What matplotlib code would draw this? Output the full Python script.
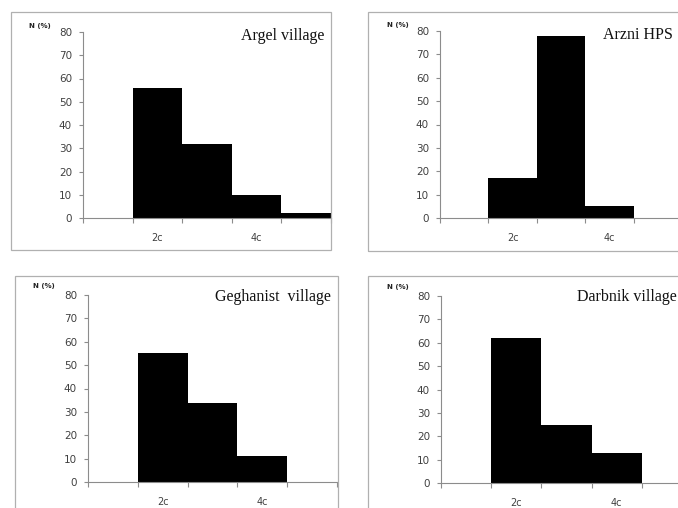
import matplotlib
matplotlib.use("Agg")
import matplotlib.pyplot as plt
from matplotlib.patches import Rectangle

W, H = 678, 508

# size classes shown on the x axis (only every other one is labelled)
classes = ["1c", "2c", "3c", "4c", "5c"]
shown_labels = ["", "2c", "", "4c", ""]

# share of trees in each class, %
argel = [0, 56, 32, 10, 2]
arzni = [0, 17, 78, 5, 0]
geghanist = [0, 55, 34, 11, 0]
darbnik = [0, 62, 25, 13, 0]

titles = ["Argel village", "Arzni HPS", "Geghanist  village", "Darbnik village"]
series = [argel, arzni, geghanist, darbnik]

# pixel layout of each pasted chart: frame box, plot area, title and "N (%)" spots
panels = [
    dict(frame=(11, 12, 331, 250), area=(83, 331, 218, 32), title=(241, 28), nlab=(29, 26)),
    dict(frame=(368, 12, 700, 251), area=(440, 682, 218, 31), title=(603, 27), nlab=(387, 25)),
    dict(frame=(15, 276, 338, 520), area=(88, 337, 482, 295), title=(215, 289), nlab=(33, 286)),
    dict(frame=(368, 276, 700, 520), area=(441, 692, 483, 296), title=(577, 289), nlab=(387, 287)),
]

fig = plt.figure(figsize=(W / 100, H / 100), dpi=100)
fig.patch.set_facecolor("white")

grey = "#8c8c8c"
for p, vals, title in zip(panels, series, titles):
    fx0, fy0, fx1, fy1 = p["frame"]
    fig.patches.append(Rectangle((fx0 / W, 1 - fy1 / H), (fx1 - fx0) / W, (fy1 - fy0) / H,
                                 transform=fig.transFigure, fill=False,
                                 edgecolor="#b0b0b0", lw=0.9))

    x0, x1, y0, y80 = p["area"]
    ax = fig.add_axes([x0 / W, 1 - y0 / H, (x1 - x0) / W, (y0 - y80) / H])
    ax.set_facecolor("none")
    pos = range(len(classes))
    ax.bar(pos, vals, width=1.0, color="black", edgecolor="black", linewidth=0)
    ax.set_xlim(-0.5, len(classes) - 0.5)
    ax.set_ylim(0, 80)
    ax.set_yticks(range(0, 81, 10))
    ax.set_xticks(list(pos))
    ax.set_xticklabels(shown_labels)
    ax.set_xticks([i - 0.5 for i in range(len(classes) + 1)], minor=True)
    ax.tick_params(axis="x", which="major", length=0, pad=11, labelsize=7, labelcolor="#404040")
    ax.tick_params(axis="x", which="minor", length=3.5, color=grey, width=0.8, direction="out")
    ax.tick_params(axis="y", length=3, color=grey, width=0.8, pad=5, labelsize=7.5,
                   labelcolor="#404040")
    for s in ("top", "right"):
        ax.spines[s].set_visible(False)
    for s in ("left", "bottom"):
        ax.spines[s].set_color(grey)
        ax.spines[s].set_linewidth(0.8)

    tx, ty = p["title"]
    fig.text(tx / W, 1 - ty / H, title, family="Liberation Serif", fontsize=11.5,
             ha="left", va="top", color="#111111")
    nx, ny = p["nlab"]
    fig.text(nx / W, 1 - ny / H, "N (%)", fontsize=5, fontweight="bold",
             ha="left", va="center", color="#222222")

fig.savefig("out.png", dpi=100, facecolor="white")
